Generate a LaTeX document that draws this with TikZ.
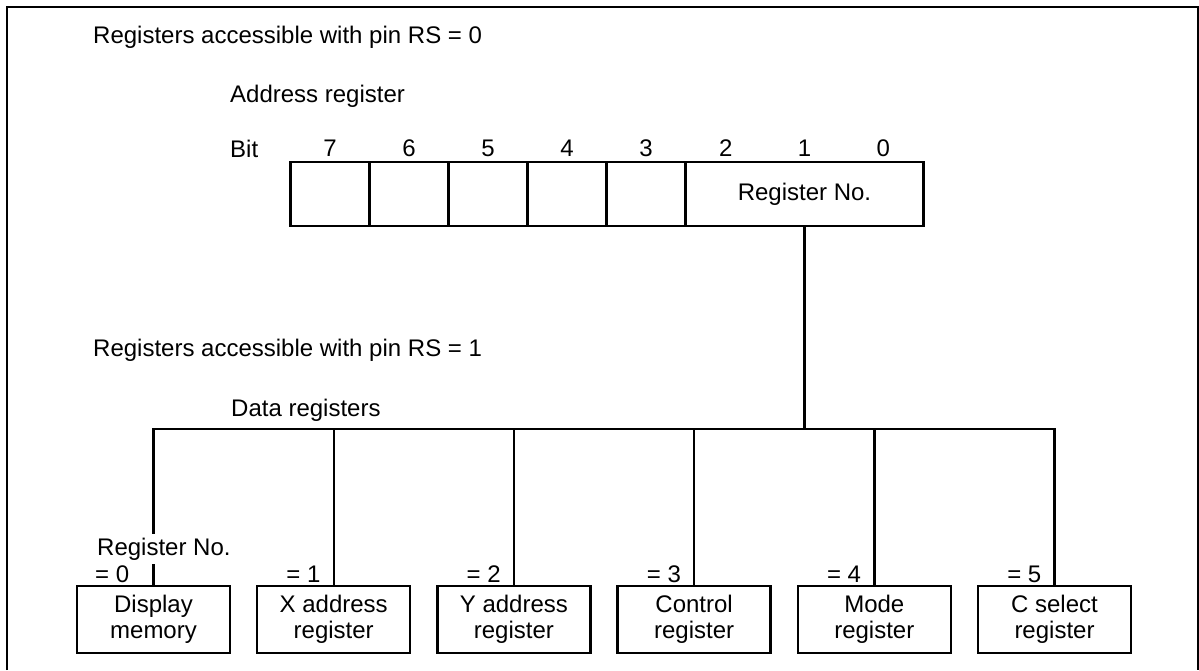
\documentclass[tikz,border=0pt]{standalone}
\usepackage{fontspec}
\setmainfont{Liberation Sans}
\usetikzlibrary{positioning}

\begin{document}
\begin{tikzpicture}[x=0.5pt, y=-0.5pt, line width=1.2pt,
    nodes={font=\fontsize{12}{13}\selectfont},
    cell/.style={draw, minimum width=39.5pt, minimum height=32pt, inner sep=0pt, outer sep=0pt},
    bitno/.style={inner sep=1pt},
    regbox/.style={draw, align=center, minimum width=76.5pt, minimum height=33.5pt, inner sep=0pt, outer sep=0pt},
    txt/.style={anchor=base west, inner sep=0pt},
    eqno/.style={anchor=base east, inner sep=0pt}]
  \useasboundingbox (0,0) rectangle (1199,670);
  % outer frame
  \draw[line width=0.9pt] (7,670) -- (7,7) -- (1198,7) -- (1198,670);

  % address register, RS = 0
  \node[txt] (rszero) at (92,43) {Registers accessible with pin RS = 0};
  \node[txt] (adrtitle) at (229,102) {Address register};
  \node[txt] (bit) at (229,157) {Bit};
  \node[cell] (b7) at (330,194) {};
  \node[cell, right=0pt of b7] (b6) {};
  \node[cell, right=0pt of b6] (b5) {};
  \node[cell, right=0pt of b5] (b4) {};
  \node[cell, right=0pt of b4] (b3) {};
  \node[cell, right=0pt of b3, minimum width=119pt] (regno) {Register No.};
  \node[bitno, above=1pt of b7] (n7) {7};
  \node[bitno, above=1pt of b6] (n6) {6};
  \node[bitno, above=1pt of b5] (n5) {5};
  \node[bitno, above=1pt of b4] (n4) {4};
  \node[bitno, above=1pt of b3] (n3) {3};
  \node[bitno, above=1pt of regno] (n1) {1};
  \node[bitno, left=29.5pt of n1] (n2) {2};
  \node[bitno, right=29.5pt of n1] (n0) {0};

  % data registers, RS = 1
  \node[txt] (rsone) at (92,356) {Registers accessible with pin RS = 1};
  \node[txt] (datatitle) at (230,416) {Data registers};
  \coordinate (bus) at (0,429);
  \node[regbox] (dm) at (153.5,619.5) {Display\\memory};
  \node[regbox, right=13.6pt of dm] (xa) {X address\\register};
  \node[regbox, right=13.6pt of xa] (ya) {Y address\\register};
  \node[regbox, right=13.6pt of ya] (ctl) {Control\\register};
  \node[regbox, right=13.6pt of ctl] (mode) {Mode\\register};
  \node[regbox, right=13.6pt of mode] (csel) {C select\\register};

  % connectors
  \draw (regno) -- (regno |- bus);
  \draw (dm) -- (dm |- bus) -- (csel |- bus) -- (csel);
  \draw (xa) -- (xa |- bus);
  \draw (ya) -- (ya |- bus);
  \draw (ctl) -- (ctl |- bus);
  \draw (mode) -- (mode |- bus);

  % register numbers
  \node[txt, fill=white, inner sep=2pt] (regnolbl) at (92,555) {Register No.};
  \node[txt] (eq0) at (94,582) {= 0};
  \node[eqno] (eq1) at ([shift={(-6pt,2pt)}]xa.north) {= 1};
  \node[eqno] (eq2) at ([shift={(-6pt,2pt)}]ya.north) {= 2};
  \node[eqno] (eq3) at ([shift={(-6pt,2pt)}]ctl.north) {= 3};
  \node[eqno] (eq4) at ([shift={(-6pt,2pt)}]mode.north) {= 4};
  \node[eqno] (eq5) at ([shift={(-6pt,2pt)}]csel.north) {= 5};
\end{tikzpicture}
\end{document}
